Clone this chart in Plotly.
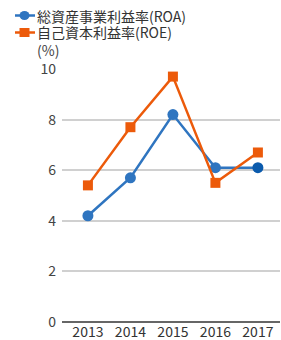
import plotly.graph_objects as go

years = [2013, 2014, 2015, 2016, 2017]
roa = [4.2, 5.7, 8.2, 6.1, 6.1]
roe = [5.4, 7.7, 9.7, 5.5, 6.7]
y_ticks = [0, 2, 4, 6, 8, 10]
names = ["総資産事業利益率(ROA)", "自己資本利益率(ROE)"]
colors = ["#2f75c0", "#ec5a0a"]

FONT = "Noto Sans CJK JP"
W, H = 281, 340
L, R, T, B = 62, 1, 69, 18
PW, PH = W - L - R, H - T - B


def px_x(p):
    return (p - L) / PW


def px_y(p):
    return (H - B - p) / PH


fig = go.Figure()
fig.add_trace(go.Scatter(
    x=years, y=roa, name=names[0], mode="lines+markers",
    line=dict(color=colors[0], width=2.5),
    marker=dict(symbol="circle", size=11, color=[colors[0]] * 4 + ["#0b5bad"]),
))
fig.add_trace(go.Scatter(
    x=years, y=roe, name=names[1], mode="lines+markers",
    line=dict(color=colors[1], width=2.5),
    marker=dict(symbol="square", size=10, color=colors[1]),
))

shapes = []
annotations = []
for i, (nm, col) in enumerate(zip(names, colors)):
    yy = px_y(15.5 + 17 * i)
    shapes.append(dict(type="line", xref="paper", yref="paper", x0=px_x(15), x1=px_x(35),
                       y0=yy, y1=yy, line=dict(color=col, width=2.5)))
    shapes.append(dict(type="circle" if i == 0 else "rect", xref="paper", yref="paper",
                       xsizemode="pixel", ysizemode="pixel",
                       xanchor=px_x(24.5), yanchor=yy, x0=-5, x1=5, y0=-4.5, y1=4.5,
                       fillcolor=col, line=dict(width=0)))
    annotations.append(dict(text=nm, xref="paper", yref="paper", x=px_x(36), y=yy,
                            xanchor="left", yanchor="middle", showarrow=False, borderpad=0,
                            font=dict(size=14, color="#333")))
annotations.append(dict(text="(%)", xref="paper", yref="paper", x=px_x(60), y=px_y(50),
                        xanchor="right", yanchor="middle", showarrow=False, borderpad=0,
                        font=dict(size=14, color="#444")))

fig.update_layout(
    width=W, height=H,
    margin=dict(l=L, r=R, t=T, b=B, autoexpand=False),
    paper_bgcolor="white", plot_bgcolor="white",
    font=dict(family=FONT, size=14, color="#444"),
    showlegend=False,
    xaxis=dict(range=[2012.39, 2017.52], tickvals=years, ticktext=[str(y) for y in years],
               showgrid=False, zeroline=False, showline=False, ticks="",
               tickfont=dict(size=14, color="#333"), fixedrange=True),
    yaxis=dict(range=[0, 10], tickvals=y_ticks, showgrid=True, gridcolor="#d0d0d0",
               gridwidth=1.5, zeroline=True, zerolinecolor="#666", zerolinewidth=2,
               ticks="", ticklabelstandoff=5,
               tickfont=dict(size=14, color="#444"), fixedrange=True),
    shapes=shapes,
    annotations=annotations,
)
fig.write_html("out.html", config={"displayModeBar": False},
               post_script="document.body.style.margin='0';document.body.style.overflow='hidden';")
